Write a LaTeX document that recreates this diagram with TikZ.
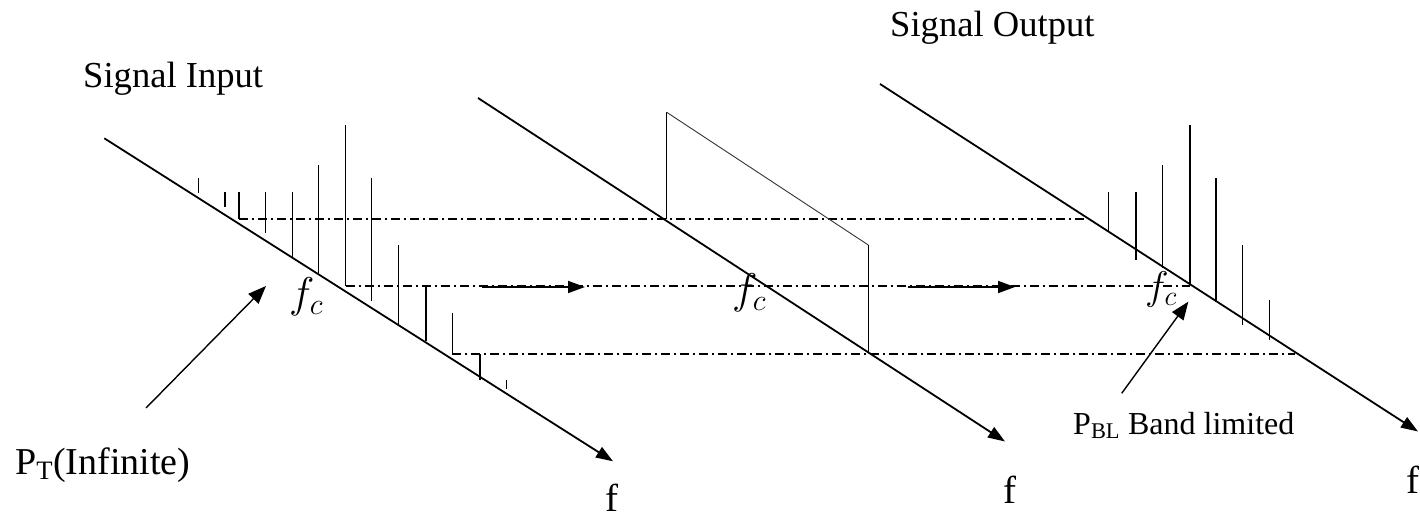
\RequirePackage{fix-cm}
\documentclass[tikz,border=0pt]{standalone}
\usepackage{fontspec}
\setmainfont{Liberation Serif}
\usetikzlibrary{arrows.meta}
\begin{document}
\begin{tikzpicture}[x=1pt,y=-1pt,
  axisline/.style={line width=1.8pt,-{Triangle[length=17pt,width=12pt]}},
  spike/.style={line width=1.4pt},
  boxline/.style={line width=1.2pt},
  guide/.style={line width=1.1pt,dash pattern=on 9pt off 4pt on 2pt off 4pt},
  flow/.style={line width=1.8pt,-{Triangle[length=17pt,width=12pt]}},
  pointer/.style={line width=1.4pt,-{Triangle[length=18pt,width=14pt]}},
  lbl/.style={inner sep=0pt,anchor=base west},
  bigtext/.style={lbl,font=\fontsize{36.6}{40}\selectfont},
  fclabel/.style={lbl,font=\fontsize{43}{45}\selectfont},
]
\useasboundingbox (0,0) rectangle (1420,518);

% ---- guide lines (dash-dot)
\coordinate (gUa) at (239,219);   \coordinate (gUb) at (1087,219);
\coordinate (gMa) at (345.7,286); \coordinate (gMb) at (1190,286);
\coordinate (gLa) at (452.3,354); \coordinate (gLb) at (1295,354);
\draw[guide] (gUa) -- (gUb);
\draw[guide] (gMa) -- (gMb);
\draw[guide] (gLa) -- (gLb);

% ---- axes
\coordinate (a1s) at (104.3,138.3); \coordinate (a1e) at (613,461.3);
\coordinate (a2s) at (478,98);      \coordinate (a2e) at (1005,441.5);
\coordinate (a3s) at (880,84);      \coordinate (a3e) at (1418,431.5);
\draw[axisline] (a1s) -- (a1e);
\draw[axisline] (a2s) -- (a2e);
\draw[axisline] (a3s) -- (a3e);

% ---- input spectrum spikes
\foreach \x/\t/\b in {198.3/178.3/192.7, 225/191.7/206.7, 239/191.7/219,
  265.7/191.7/233.3, 292.3/191.7/258.3, 318.3/165/273.3, 345.7/125/286,
  371.7/178.3/300.7, 398.3/245/324.3, 426/286/341, 452.3/312.7/354.3,
  480/354/380, 506.7/380/389.3}
  \draw[spike] (\x,\t) -- (\x,\b);

% ---- filter (band-pass) shape
\coordinate (bp1) at (666.7,219.3);
\coordinate (bp2) at (666.7,112.3);
\coordinate (bp3) at (868.3,245);
\coordinate (bp4) at (868.3,351.7);
\draw[boxline] (bp1) -- (bp2);
\draw[line width=0.9pt,black!80] (bp2) -- (bp3);
\draw[boxline] (bp3) -- (bp4);

% ---- output spectrum spikes
\foreach \x/\t/\b in {1108.3/191.7/231.7, 1136/191.7/260, 1162.7/165/268.3,
  1190/125/285, 1216/178.3/301.7, 1242.7/245/325, 1269.3/300/340}
  \draw[spike] (\x,\t) -- (\x,\b);

% ---- flow arrows
\coordinate (fl1a) at (482,287); \coordinate (fl1b) at (585,287);
\coordinate (fl2a) at (908,287); \coordinate (fl2b) at (1015,287);
\draw[flow] (fl1a) -- (fl1b);
\draw[flow] (fl2a) -- (fl2b);

% ---- labels
\node[bigtext] (sigin) at (83,88) {Signal Input};
\node[bigtext] (sigout) at (890,37) {Signal Output};
\node[lbl,font=\fontsize{38}{40}\selectfont] (pt) at (15,474) {P\textsubscript{T}(Infinite)};
\node[lbl,font=\fontsize{32}{34}\selectfont] (pbl) at (1073,434) {P\textsubscript{BL} Band limited};

\node[fclabel] (fc1) at (289,308) {$f_c$};
\node[fclabel] (fc2) at (732,304) {$f_c$};
\node[lbl,font=\fontsize{40}{42}\selectfont] (fc3) at (1145,299) {$f_c$};

\node[lbl,font=\fontsize{39}{40}\selectfont] (f1) at (605,511) {f};
\node[lbl,font=\fontsize{39}{40}\selectfont] (f2) at (1003,503) {f};
\node[lbl,font=\fontsize{39}{40}\selectfont] (f3) at (1406,493) {f};

% ---- pointers
\coordinate (ptTail) at (146,408);  \coordinate (ptTip) at (266,286);
\coordinate (pblTail) at (1121.7,393.3); \coordinate (pblTip) at (1188.3,301.7);
\draw[pointer] (ptTail) -- (ptTip);
\draw[pointer] (pblTail) -- (pblTip);
\end{tikzpicture}
\end{document}
